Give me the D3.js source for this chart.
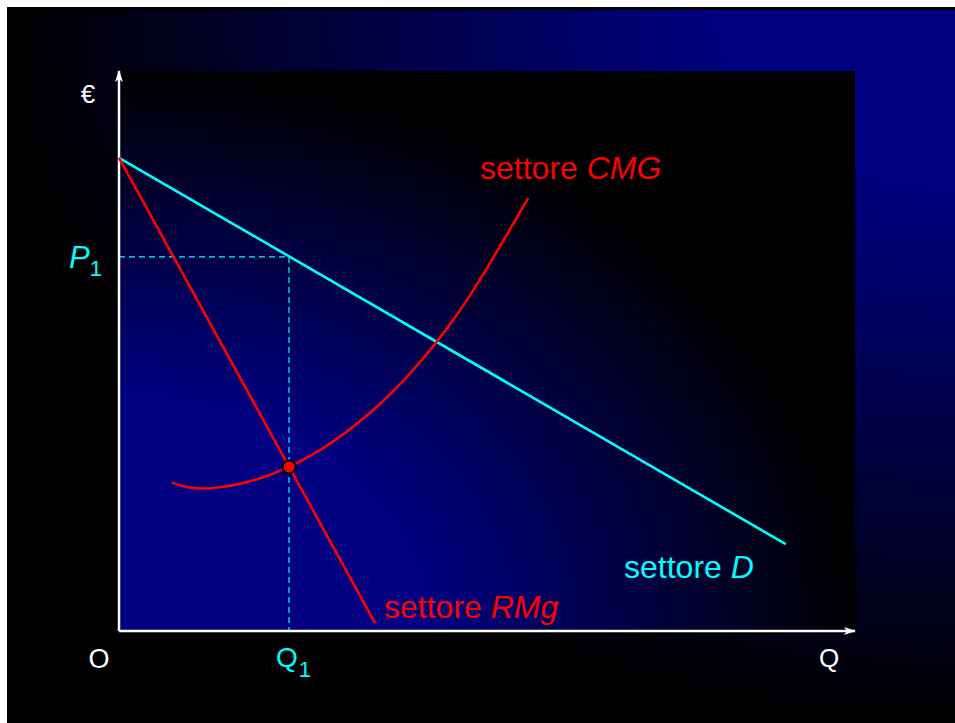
<!DOCTYPE html>
<html>
<head>
<meta charset="utf-8">
<script src="https://cdn.jsdelivr.net/npm/d3@7"></script>
<style>
  html, body { margin: 0; padding: 0; background: #ffffff; }
  svg { display: block; }
  text { font-family: "Liberation Sans", Arial, sans-serif; }
</style>
</head>
<body>
<svg id="chart" width="955" height="723"></svg>
<script>
// Market (sector) demand, marginal revenue and marginal cost — monopoly equilibrium
const demandQ = [0, 90.6];
const demandP = [84.5, 15.5];

const revenueQ = [0, 34.8];
const revenueP = [84.5, 1.4];

const costQ = [7.2, 12.4, 23.1, 35.0, 43.2, 48.6, 55.6];
const costP = [26.5, 25.5, 29.3, 40.0, 51.7, 61.8, 77.3];

const equilibriumQ = [23.1];
const equilibriumP = [66.8];
const equilibriumCost = [29.3];

const axisLabels = ["O", "Q", "€"];
const curveLabels = ["settore ", "D", "RMg", "CMG"];
const levelLabels = ["P", "Q", "1"];

const svg = d3.select("#chart");
const W = 955, H = 723;

const x = d3.scaleLinear().domain([0, 100]).range([119, 855]);
const y = d3.scaleLinear().domain([0, 100]).range([631, 71]);

const defs = svg.append("defs");

// slide background: navy in the upper-right corner fading to black
const bgGrad = defs.append("radialGradient")
  .attr("id", "bgGrad").attr("cx", 1).attr("cy", 0).attr("r", 1)
  .attr("fx", 1).attr("fy", 0);
bgGrad.append("stop").attr("offset", 0).attr("stop-color", "#000080");
bgGrad.append("stop").attr("offset", 0.25).attr("stop-color", "#000080");
bgGrad.append("stop").attr("offset", 1).attr("stop-color", "#000000");

// plot panel: navy in the lower-left corner fading to black
const plotGrad = defs.append("radialGradient")
  .attr("id", "plotGrad").attr("cx", 0).attr("cy", 1).attr("r", 1)
  .attr("fx", 0).attr("fy", 1);
plotGrad.append("stop").attr("offset", 0).attr("stop-color", "#000080");
plotGrad.append("stop").attr("offset", 0.42).attr("stop-color", "#000080");
plotGrad.append("stop").attr("offset", 1).attr("stop-color", "#000000");

defs.append("marker")
  .attr("id", "arrow")
  .attr("viewBox", "0 0 12 10")
  .attr("refX", 11).attr("refY", 5)
  .attr("markerWidth", 12).attr("markerHeight", 10)
  .attr("markerUnits", "userSpaceOnUse")
  .attr("orient", "auto")
  .append("path")
  .attr("d", "M0,1 L12,5 L0,9 L3,5 Z")
  .attr("fill", "#ffffff");

// white page margin with the slide set inside it
svg.append("rect").attr("width", W).attr("height", H).attr("fill", "#ffffff");
svg.append("rect").attr("x", 7).attr("y", 7).attr("width", W - 7).attr("height", H - 7)
  .attr("fill", "url(#bgGrad)");
svg.append("rect").attr("x", 7).attr("y", 7).attr("width", W - 7).attr("height", 3)
  .attr("fill", "#000000");
svg.append("rect").attr("x", 7).attr("y", 7).attr("width", 10).attr("height", H - 7)
  .attr("fill", "#000000");

svg.append("rect")
  .attr("x", x(0)).attr("y", y(100))
  .attr("width", x(100) - x(0)).attr("height", y(0) - y(100))
  .attr("fill", "url(#plotGrad)");

// guide lines at the equilibrium price and quantity
const guide = svg.append("g")
  .attr("stroke", "#00ffff").attr("stroke-width", 1.2)
  .attr("stroke-dasharray", "6,4").attr("fill", "none");
guide.append("line")
  .attr("x1", x(0)).attr("y1", y(equilibriumP[0]))
  .attr("x2", x(equilibriumQ[0])).attr("y2", y(equilibriumP[0]));
guide.append("line")
  .attr("x1", x(equilibriumQ[0])).attr("y1", y(equilibriumP[0]))
  .attr("x2", x(equilibriumQ[0])).attr("y2", y(0));

// axes without ticks, ending in arrowheads
const xAxis = svg.append("g")
  .attr("transform", `translate(0,${y(0)})`)
  .call(d3.axisBottom(x).tickValues([]).tickSizeOuter(0));
const yAxis = svg.append("g")
  .attr("transform", `translate(${x(0)},0)`)
  .call(d3.axisLeft(y).tickValues([]).tickSizeOuter(0));
[xAxis, yAxis].forEach(g => {
  g.select(".domain")
    .attr("stroke", "#ffffff").attr("stroke-width", 2.5)
    .attr("marker-end", "url(#arrow)");
});
xAxis.select(".domain").attr("d", `M${x(0)},0H${x(100)}`);
yAxis.select(".domain").attr("d", `M0,${y(0)}V${y(100)}`);

const line = d3.line().x(d => x(d[0])).y(d => y(d[1]));

svg.append("path")
  .datum(d3.zip(demandQ, demandP))
  .attr("d", line)
  .attr("fill", "none").attr("stroke", "#00ffff").attr("stroke-width", 2.6);

svg.append("path")
  .datum(d3.zip(revenueQ, revenueP))
  .attr("d", line)
  .attr("fill", "none").attr("stroke", "#ff0000").attr("stroke-width", 2.6);

svg.append("path")
  .datum(d3.zip(costQ, costP))
  .attr("d", d3.line().x(d => x(d[0])).y(d => y(d[1])).curve(d3.curveNatural))
  .attr("fill", "none").attr("stroke", "#ff0000").attr("stroke-width", 2.6);

svg.append("circle")
  .attr("cx", x(equilibriumQ[0])).attr("cy", y(equilibriumCost[0]))
  .attr("r", 6.5)
  .attr("fill", "#ff0000").attr("stroke", "#000000").attr("stroke-width", 2);

// axis letters
svg.append("text").text(axisLabels[0])
  .attr("x", 99).attr("y", 668).attr("text-anchor", "middle")
  .attr("font-size", 27).attr("fill", "#ffffff");
svg.append("text").text(axisLabels[1])
  .attr("x", 829).attr("y", 667).attr("text-anchor", "middle")
  .attr("font-size", 26).attr("fill", "#ffffff");
svg.append("text").text(axisLabels[2])
  .attr("x", 88).attr("y", 103).attr("text-anchor", "middle")
  .attr("font-size", 26).attr("fill", "#ffffff");

// P1 and Q1
const p1 = svg.append("text").attr("x", 69).attr("y", y(equilibriumP[0]) + 11)
  .attr("fill", "#00ffff");
p1.append("tspan").text(levelLabels[0]).attr("font-size", 31).attr("font-style", "italic");
p1.append("tspan").text(levelLabels[2]).attr("font-size", 22).attr("dx", 0).attr("dy", 8);

const q1 = svg.append("text").attr("x", 276).attr("y", 667)
  .attr("fill", "#00ffff");
q1.append("tspan").text(levelLabels[1]).attr("font-size", 28);
q1.append("tspan").text(levelLabels[2]).attr("font-size", 22).attr("dx", 1).attr("dy", 10);

// curve names
function curveLabel(px, py, name, colour) {
  const t = svg.append("text").attr("x", px).attr("y", py)
    .attr("font-size", 32).attr("fill", colour);
  t.append("tspan").text(curveLabels[0]);
  t.append("tspan").text(name).attr("font-style", "italic");
}
curveLabel(480, 179, curveLabels[3], "#ff0000");
curveLabel(384, 618, curveLabels[2], "#ff0000");
curveLabel(624, 578, curveLabels[1], "#00ffff");
</script>
</body>
</html>
